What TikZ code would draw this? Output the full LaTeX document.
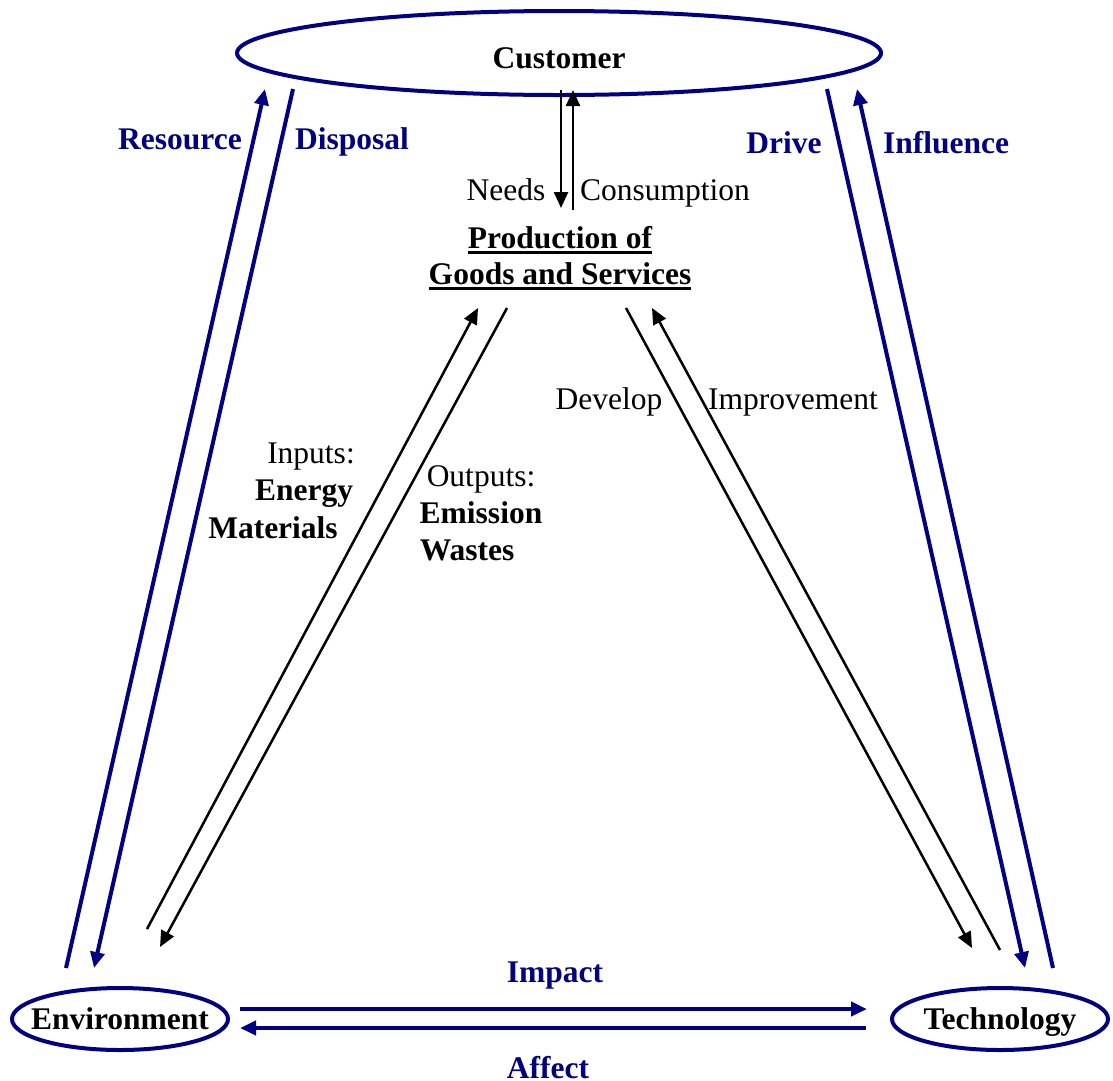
\documentclass[tikz,border=0pt]{standalone}
\usepackage{fontspec}
\setmainfont{Liberation Serif}
\usetikzlibrary{arrows.meta,shapes.geometric,calc}
\definecolor{navy}{RGB}{0,0,128}
% bold text with a heavy rule beneath it
\newcommand{\ulbox}[1]{\vtop{\hbox{#1}\kern3pt\hrule height 3pt}}

\begin{document}
\begin{tikzpicture}[x=1pt,y=-1pt,
  every node/.style={font=\fontsize{31.5}{36}\selectfont, inner sep=0pt},
  oval/.style={ellipse, draw=navy, line width=4pt, fill=white,
    font=\fontsize{31.5}{36}\selectfont\bfseries, text depth=0pt},
  bluearrow/.style={draw=navy, line width=4pt, -{Triangle[length=16pt,width=14pt]}},
  blackarrow/.style={draw=black, line width=2.5pt, -{Triangle[length=16pt,width=14pt]}},
  bluelabel/.style={anchor=base, text=navy, font=\fontsize{31.5}{36}\selectfont\bfseries},
  plainlabel/.style={anchor=base},
  boldlabel/.style={anchor=base, font=\fontsize{31.5}{36}\selectfont\bfseries},
]
\useasboundingbox (0,0) rectangle (1113,1080);

% main entities (text boxed at zero width so the ellipse keeps its set size)
\node[oval, minimum width=644pt, minimum height=84pt, text height=30pt] (cust) at (559,53) {\makebox[0pt]{Customer}};
\node[oval, minimum width=216pt, minimum height=62pt, text height=20pt] (env) at (120,1019) {\makebox[0pt]{Environment}};
\node[oval, minimum width=216pt, minimum height=62pt, text height=20pt] (tech) at (1000,1019) {\makebox[0pt]{Technology}};
\node[boldlabel] (prodA) at (560,248) {\ulbox{Production of}};
\node[boldlabel] (prodB) at (560,284) {\ulbox{Goods and Services}};

% outer loop: customer <-> environment / technology
\draw[bluearrow] ($(env.center)+(-54,-51)$) -- ($(cust.center)+(-294,36)$);
\draw[bluearrow] ($(cust.center)+(-266,36)$) -- ($(env.center)+(-26,-51)$);
\draw[bluearrow] ($(cust.center)+(268,36)$) -- ($(tech.center)+(25,-51)$);
\draw[bluearrow] ($(tech.center)+(53,-51)$) -- ($(cust.center)+(298,36)$);
\draw[bluearrow] ($(env.center)+(120,-10)$) -- ($(tech.center)+(-133,-10)$);
\draw[bluearrow] ($(tech.center)+(-134,9)$) -- ($(env.center)+(120,9)$);

% inner links to production
\draw[blackarrow] ($(cust.center)+(2,37)$) -- ($(prodA.base)+(1,-40)$);
\draw[blackarrow] ($(prodA.base)+(13,-38)$) -- ($(cust.center)+(14,37)$);
\draw[blackarrow] ($(env.center)+(27,-90)$) -- ($(prodB.base)+(-82,24)$);
\draw[blackarrow] ($(prodB.base)+(-53,24)$) -- ($(env.center)+(40,-72)$);
\draw[blackarrow] ($(prodB.base)+(66,24)$) -- ($(tech.center)+(-28,-71)$);
\draw[blackarrow] ($(tech.center)+(0,-69)$) -- ($(prodB.base)+(92,24)$);

% labels
\node[bluelabel] (lres) at (180,149) {Resource};
\node[bluelabel] (ldis) at (352,149) {Disposal};
\node[bluelabel] (ldri) at (784,153) {Drive};
\node[bluelabel] (linf) at (946,153) {Influence};
\node[bluelabel] (limp) at (555,982) {Impact};
\node[bluelabel] (laff) at (548,1078) {Affect};
\node[plainlabel] (lneed) at (506,200) {Needs};
\node[plainlabel] (lcons) at (665,200) {Consumption};
\node[plainlabel] (ldev) at (609,409) {Develop};
\node[plainlabel] (limpr) at (793,409) {Improvement};
\node[plainlabel] (lin) at (311,463) {Inputs:};
\node[boldlabel] (lene) at (304,500) {Energy};
\node[boldlabel] (lmat) at (273,538) {Materials};
\node[plainlabel] (lout) at (481,486) {Outputs:};
\node[boldlabel] (lemi) at (481,523) {Emission};
\node[boldlabel] (lwas) at (467,560) {Wastes};
\end{tikzpicture}
\end{document}
